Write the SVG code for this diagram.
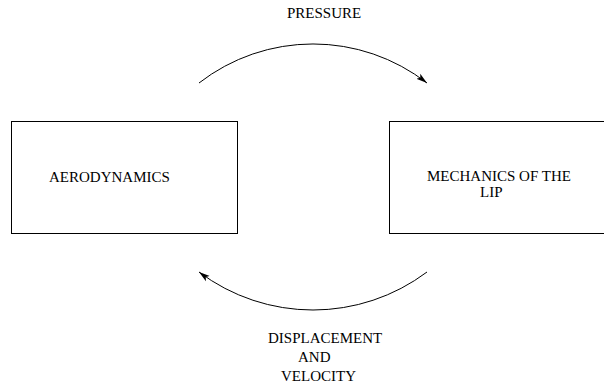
<svg xmlns="http://www.w3.org/2000/svg" width="604" height="387" viewBox="0 0 604 387">
<style>
.box{fill:#fff;stroke:#000;stroke-width:1}
.lbl{font-family:"Liberation Serif","Times New Roman",serif;font-size:15px;fill:#000}
.arc{fill:none;stroke:#000;stroke-width:1}
</style>
<defs>
<marker id="ah" viewBox="0 0 12 8" refX="11" refY="4" markerWidth="12" markerHeight="8" markerUnits="userSpaceOnUse" orient="auto">
<path d="M0,0.8 L11,4 L0,7.2 L2.5,4 Z" fill="#000"/>
</marker>
</defs>
<rect width="604" height="387" fill="#fff"/>
<g id="aerodynamics">
<rect class="box" x="11.5" y="121.5" width="226" height="112"/>
<text class="lbl" x="49" y="182">AERODYNAMICS</text>
</g>
<g id="mechanics">
<rect class="box" x="389.5" y="121.5" width="230" height="112"/>
<text class="lbl" x="427" y="181">MECHANICS OF THE</text>
<text class="lbl" x="480" y="197">LIP</text>
</g>
<g id="connectors">
<path class="arc" d="M199,83 A186,186 0 0 1 427,83" marker-end="url(#ah)"/>
<path class="arc" d="M427,272 A190,190 0 0 1 199,272" marker-end="url(#ah)"/>
</g>
<g id="labels">
<text class="lbl" x="287" y="18">PRESSURE</text>
<text class="lbl" x="268" y="343">DISPLACEMENT</text>
<text class="lbl" x="298" y="362">AND</text>
<text class="lbl" x="281" y="381">VELOCITY</text>
</g>
</svg>
